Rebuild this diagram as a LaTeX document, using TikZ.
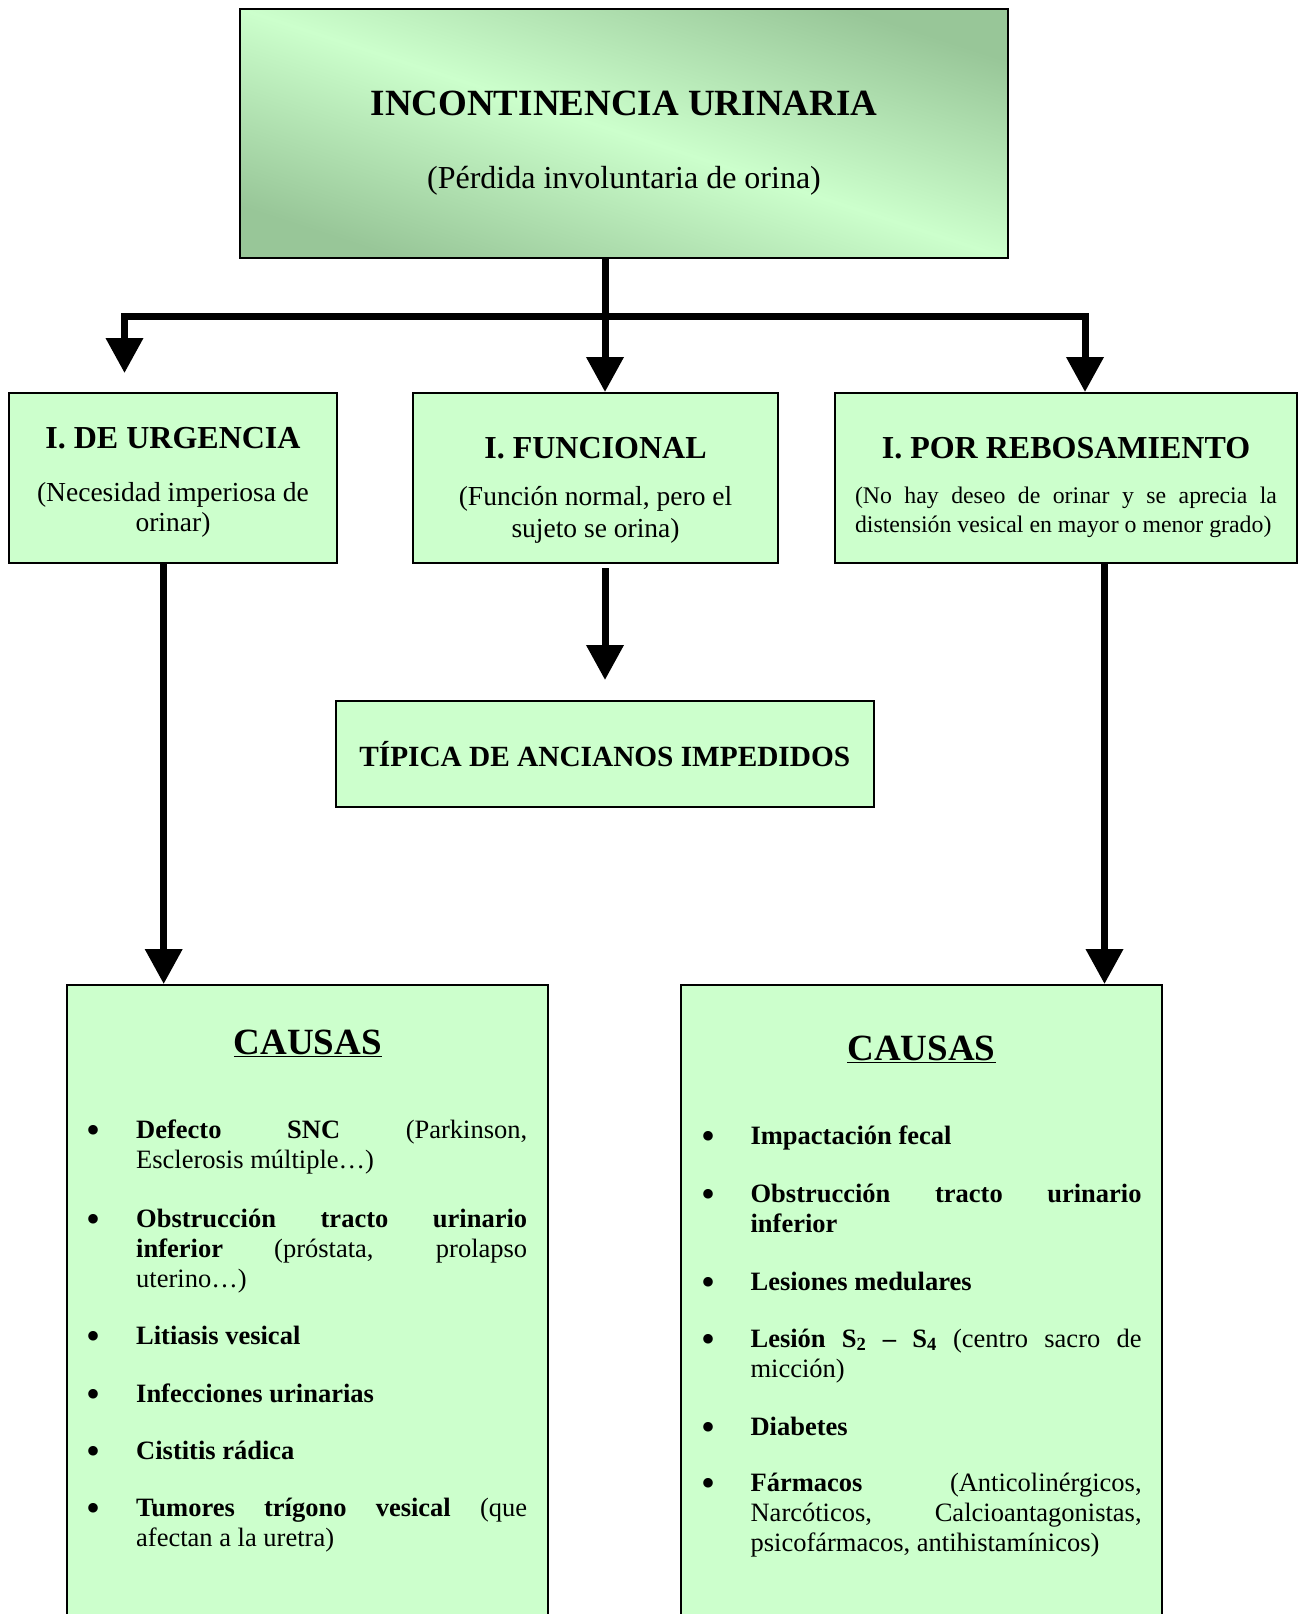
\documentclass[tikz,border=0pt]{standalone}
\usepackage{fontspec}
\setmainfont{Liberation Serif}
\usetikzlibrary{arrows.meta,calc}
\definecolor{boxgreen}{RGB}{204,255,204}
\definecolor{darkgreen}{RGB}{152,198,152}
\newcommand{\fsz}[2]{\fontsize{#1}{#2}\selectfont}
\newcommand{\causeitem}[1]{\parbox[t]{391pt}{\noindent\fsz{26.5}{30.3}#1}}
\tikzset{
  box/.style={draw=black, line width=2pt, fill=boxgreen, inner sep=0pt},
  topbox/.style={draw=black, line width=2pt, inner sep=0pt, shading=axis,
    top color=darkgreen, bottom color=darkgreen, middle color=boxgreen, shading angle=-18},
  conn/.style={line width=7pt, line join=miter, -{Triangle[width=36pt,length=35pt]}},
  busline/.style={line width=7pt, line join=miter},
  txt/.style={inner sep=0pt},
  bullet/.style={inner sep=0pt, anchor=center, yshift=3.3pt, font=\fsz{40}{40}},
  itemtxt/.style={inner sep=0pt, anchor=base west},
}
\begin{document}
\begin{tikzpicture}[x=1pt,y=-1pt]
\useasboundingbox (0,0) rectangle (1300,1614);
\clip (0,0) rectangle (1300,1614);
% boxes
\node[topbox, minimum width=768pt, minimum height=249pt] (top) at (624,133.5) {};
\node[box, minimum width=327.6pt, minimum height=170pt] (urg) at (172.8,478) {};
\node[box, minimum width=365pt, minimum height=170pt] (fun) at (595.5,478) {};
\node[box, minimum width=462pt, minimum height=170pt] (reb) at (1066,478) {};
\node[box, minimum width=538.5pt, minimum height=106pt] (tip) at (604.75,754) {};
\node[box, minimum width=480.6pt, minimum height=632pt] (causL) at (307.3,1301) {};
\node[box, minimum width=480.6pt, minimum height=632pt] (causR) at (921.7,1301) {};
% texts top
\node[txt, font=\fsz{37}{44}\bfseries] (t1) at (624,103) {INCONTINENCIA URINARIA};
\node[txt, font=\fsz{32}{38}] (t2) at (624,181) {(Pérdida involuntaria de orina)};
% level 1 texts
\node[txt, font=\fsz{32}{38}\bfseries] (urgT) at (173,438.5) {I. DE URGENCIA};
\node[txt, font=\fsz{27.5}{30}, align=center] (urgS) at (173,509.5) {(Necesidad imperiosa de\\orinar)};
\node[txt, font=\fsz{32}{38}\bfseries] (funT) at (595.5,448) {I. FUNCIONAL};
\node[txt, font=\fsz{27.5}{32}, align=center] (funS) at (595.5,515) {(Función normal, pero el\\sujeto se orina)};
\node[txt, font=\fsz{32}{38}\bfseries] (rebT) at (1066,448) {I. POR REBOSAMIENTO};
\node[txt] (rebS) at (1066,512.5) {\parbox{422pt}{\noindent\fsz{23.8}{29}(No hay deseo de orinar y se aprecia la\linebreak distensión vesical en mayor o menor grado)}};
\node[txt, font=\fsz{29.3}{34}\bfseries] (tipT) at (tip.center) {TÍPICA DE ANCIANOS IMPEDIDOS};
% causas headings
\node[txt, font=\fsz{37}{44}\bfseries] (cLT) at (307.8,1043) {\underline{CAUSAS}};
\node[txt, font=\fsz{37}{44}\bfseries] (cRT) at (921.5,1049) {\underline{CAUSAS}};
% left items
\node[bullet] (lb1) at (93.7,1138) {•};
\node[itemtxt] (li1) at (136,1138) {\causeitem{\textbf{Defecto SNC} (Parkinson,\linebreak Esclerosis múltiple…)}};
\node[bullet] (lb2) at (93.7,1227) {•};
\node[itemtxt] (li2) at (136,1227) {\causeitem{\textbf{Obstrucción tracto urinario\linebreak inferior} (próstata, prolapso\linebreak uterino…)}};
\node[bullet] (lb3) at (93.7,1344) {•};
\node[itemtxt] (li3) at (136,1344) {\causeitem{\textbf{Litiasis vesical}}};
\node[bullet] (lb4) at (93.7,1402) {•};
\node[itemtxt] (li4) at (136,1402) {\causeitem{\textbf{Infecciones urinarias}}};
\node[bullet] (lb5) at (93.7,1459) {•};
\node[itemtxt] (li5) at (136,1459) {\causeitem{\textbf{Cistitis rádica}}};
\node[bullet] (lb6) at (93.7,1516) {•};
\node[itemtxt] (li6) at (136,1516) {\causeitem{\textbf{Tumores trígono vesical} (que\linebreak afectan a la uretra)}};
% right items
\node[bullet] (rb1) at (708,1144) {•};
\node[itemtxt] (ri1) at (750.4,1144) {\causeitem{\textbf{Impactación fecal}}};
\node[bullet] (rb2) at (708,1202) {•};
\node[itemtxt] (ri2) at (750.4,1202) {\causeitem{\textbf{Obstrucción tracto urinario\linebreak inferior}}};
\node[bullet] (rb3) at (708,1290) {•};
\node[itemtxt] (ri3) at (750.4,1290) {\causeitem{\textbf{Lesiones medulares}}};
\node[bullet] (rb4) at (708,1347) {•};
\node[itemtxt] (ri4) at (750.4,1347) {\causeitem{\textbf{Lesión S\textsubscript{2} – S\textsubscript{4}} (centro sacro de\linebreak micción)}};
\node[bullet] (rb5) at (708,1435) {•};
\node[itemtxt] (ri5) at (750.4,1435) {\causeitem{\textbf{Diabetes}}};
\node[bullet] (rb6) at (708,1491) {•};
\node[itemtxt] (ri6) at (750.4,1491) {\causeitem{\textbf{Fármacos} (Anticolinérgicos,\linebreak Narcóticos, Calcioantagonistas,\linebreak psicofármacos, antihistamínicos)}};
% connectors
\coordinate (busM) at (605,316);
\coordinate (busL) at (124.5,316);
\coordinate (busR) at (1085,316);
\coordinate (tipL) at (124.5,373);
\coordinate (dL) at (163.7,0);
\coordinate (dR) at (1104.5,0);
\draw[busline] (busM |- top.south) -- (busM);
\draw[conn] (busR) -- (busL) -- (tipL);
\draw[conn] (busL) -- (busR) -- (busR |- reb.north);
\draw[conn] (busM) -- (busM |- fun.north);
\draw[conn] (dL |- urg.south) -- (dL |- causL.north);
\draw[conn] ($(busM |- fun.south)+(0,4)$) -- ($(busM |- tip.north)+(0,-20)$);
\draw[conn] (dR |- reb.south) -- (dR |- causR.north);
\end{tikzpicture}
\end{document}
